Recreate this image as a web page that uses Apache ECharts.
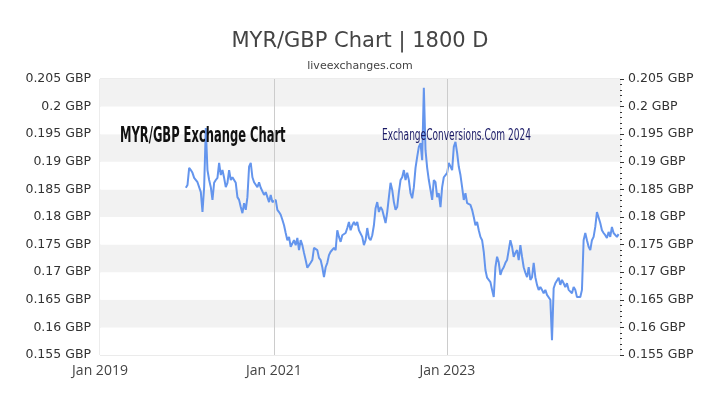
<!DOCTYPE html>
<html>
<head>
<meta charset="utf-8">
<script src="https://cdn.jsdelivr.net/npm/echarts@6/dist/echarts.min.js"></script>
<style>html,body{margin:0;padding:0;background:#fff;}#c{width:720px;height:405px;}</style>
</head>
<body>
<div id="c"></div>
<script>
// ---- data ----
const titleText = 'MYR/GBP Chart | 1800 D';
const subtitleText = 'liveexchanges.com';
const overlayLeft = 'MYR/GBP Exchange Chart';
const overlayRight = 'ExchangeConversions.Com 2024';
const firstDate = '2019-12-28';   // first observation (weekly samples)
const stepDays = 7;
const rates = [
0.1853,0.1858,0.1889,0.1885,0.1880,0.1871,0.1872,0.1863,0.1862,0.1845,
0.1809,0.1854,0.1961,0.1885,0.1867,0.1854,0.1831,0.1862,0.1867,0.1871,
0.1898,0.1876,0.1885,0.1871,0.1854,0.1862,0.1885,0.1867,0.1872,0.1867,
0.1862,0.1836,0.1831,0.1818,0.1807,0.1825,0.1813,0.1836,0.1891,0.1898,
0.1872,0.1863,0.1862,0.1854,0.1863,0.1853,0.1854,0.1840,0.1845,0.1836,
0.1827,0.1840,0.1827,0.1825,0.1831,0.1813,0.1809,0.1804,0.1795,0.1785,
0.1771,0.1758,0.1764,0.1746,0.1744,0.1758,0.1749,0.1762,0.1740,0.1758,
0.1749,0.1735,0.1722,0.1708,0.1709,0.1717,0.1722,0.1744,0.1746,0.1740,
0.1726,0.1722,0.1709,0.1691,0.1709,0.1717,0.1731,0.1737,0.1740,0.1744,
0.1740,0.1776,0.1764,0.1755,0.1767,0.1764,0.1771,0.1780,0.1791,0.1776,
0.1785,0.1791,0.1785,0.1791,0.1776,0.1773,0.1764,0.1749,0.1758,0.1780,
0.1762,0.1758,0.1767,0.1785,0.1816,0.1827,0.1809,0.1818,0.1813,0.1816,
0.1789,0.1809,0.1836,0.1862,0.1849,0.1827,0.1813,0.1818,0.1845,0.1867,
0.1872,0.1885,0.1867,0.1880,0.1867,0.1843,0.1834,0.1854,0.1889,0.1909,
0.1927,0.1934,0.1903,0.2034,0.1921,0.1889,0.1867,0.1849,0.1831,0.1867,
0.1863,0.1836,0.1843,0.1818,0.1854,0.1872,0.1876,0.1880,0.1898,0.1900,
0.1885,0.1927,0.1936,0.1916,0.1891,0.1876,0.1854,0.1831,0.1843,0.1825,
0.1827,0.1822,0.1813,0.1800,0.1785,0.1791,0.1776,0.1764,0.1758,0.1737,
0.1704,0.1690,0.1686,0.1682,0.1668,0.1655,0.1709,0.1728,0.1718,0.1695,
0.1704,0.1709,0.1717,0.1722,0.1740,0.1758,0.1746,0.1728,0.1735,0.1740,
0.1722,0.1749,0.1728,0.1709,0.1699,0.1691,0.1709,0.1686,0.1691,0.1717,
0.1691,0.1677,0.1668,0.1673,0.1668,0.1662,0.1668,0.1659,0.1662,0.1650,
0.1577,0.1671,0.1680,0.1682,0.1690,0.1677,0.1686,0.1680,0.1673,0.1680,
0.1668,0.1671,0.1662,0.1673,0.1668,0.1655,0.1653,0.1655,0.1668,0.1758,
0.1771,0.1758,0.1746,0.1740,0.1758,0.1764,0.1782,0.1809,0.1807,0.1789,
0.1776,0.1771,0.1767,0.1762,0.1773,0.1764,0.1782,0.1771,0.1773,0.1764,0.1769
];
const xMin = '2019-01-01';
const xMax = '2024-12-27';
const gridDates = ['2021-01-01', '2023-01-01'];
const yMin = 0.155, yMax = 0.205, yStep = 0.005;

// ---- build ----
const DAY = 86400000;
const t0 = Date.parse(firstDate + 'T00:00:00Z');
const seriesData = rates.map((v, i) => [t0 + i * stepDays * DAY, v]);

const labelFmt = v => +v.toFixed(3) + ' GBP';
const chart = echarts.init(document.getElementById('c'), null, {renderer: 'canvas'});
chart.setOption({
  animation: false,
  backgroundColor: '#fff',
  title: [
    {text: titleText, left: 'center', top: 26, textStyle: {fontFamily: 'DejaVu Sans', fontSize: 21, fontWeight: 'normal', color: '#444'}},
    {text: subtitleText, left: 'center', top: 56, textStyle: {fontFamily: 'DejaVu Sans', fontSize: 11, fontWeight: 'normal', color: '#444'}}
  ],
  grid: {left: 100, right: 100, top: 79, bottom: 50, show: true, borderColor: '#d8d8d8', borderWidth: 1, backgroundColor: 'transparent'},
  xAxis: {
    type: 'time', min: xMin, max: xMax,
    minInterval: 365 * DAY, maxInterval: 366 * DAY,
    axisLine: {show: false}, axisTick: {show: false}, splitLine: {show: false},
    axisLabel: {
      fontFamily: 'Open Sans', fontSize: 14, color: '#444', margin: 9,
      formatter: v => { const d = new Date(v); const y = d.getUTCFullYear(); return (d.getUTCMonth() === 0 && y % 2 === 1) ? 'Jan ' + y : ''; }
    }
  },
  yAxis: [
    {type: 'value', min: yMin, max: yMax, interval: yStep, position: 'left',
     axisLine: {show: false}, axisTick: {show: false},
     splitLine: {show: false},
     splitArea: {show: true, areaStyle: {color: ['#ffffff', '#f2f2f2']}},
     axisLabel: {formatter: labelFmt, fontFamily: 'DejaVu Sans', fontSize: 12.5, color: '#333', margin: 9}},
    {type: 'value', min: yMin, max: yMax, interval: yStep, position: 'right',
     axisLine: {show: false},
     axisTick: {show: true, inside: false, length: 4, lineStyle: {color: '#333'}},
     minorTick: {show: true, splitNumber: 5, length: 2, lineStyle: {color: '#333'}},
     splitLine: {show: false},
     axisLabel: {formatter: labelFmt, fontFamily: 'DejaVu Sans', fontSize: 12.5, color: '#333', margin: 8}}
  ],
  graphic: [
    {type: 'text', left: 120, top: 126, z: 100, scaleX: 0.61,
     style: {text: overlayLeft, fontFamily: 'Liberation Sans Narrow, DejaVu Sans Condensed, sans-serif', fontWeight: 'bold', fontSize: 21, fill: '#111'}},
    {type: 'text', left: 382, top: 129, z: 100, scaleX: 0.67,
     style: {text: overlayRight, fontFamily: 'Liberation Sans Narrow, DejaVu Sans Condensed, sans-serif', fontSize: 15, fill: '#1a1a66'}}
  ],
  series: [{
    type: 'line', yAxisIndex: 0, data: seriesData, showSymbol: false, symbol: 'none',
    lineStyle: {color: '#6495ED', width: 2}, z: 2,
    markLine: {symbol: 'none', silent: true, label: {show: false},
      lineStyle: {color: '#cccccc', width: 1, type: 'solid'},
      data: gridDates.map(d => ({xAxis: d}))}
  }]
});
</script>
</body>
</html>
